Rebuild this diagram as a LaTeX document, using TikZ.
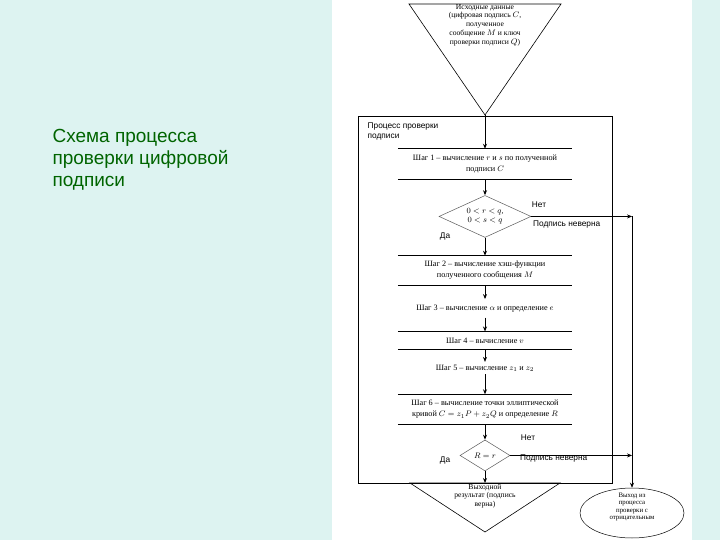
\documentclass[tikz,border=0pt]{standalone}
\usepackage{fontspec}
\setmainfont{Liberation Serif}
\setsansfont{Liberation Sans}
\usepackage{tikz}
\usetikzlibrary{positioning,shapes.geometric,arrows.meta}
\definecolor{pagebg}{RGB}{221,243,241}
\definecolor{titlegreen}{RGB}{0,100,0}
\definecolor{linegray}{RGB}{90,90,90}
\newcommand{\stepfont}{\fontsize{8.2}{11}\selectfont}
\newcommand{\labfont}{\sffamily\fontsize{8.3}{10}\selectfont}
\newcommand{\smallfont}{\fontsize{7.6}{8.7}\selectfont}
\newcommand{\exitfont}{\fontsize{6.8}{7.5}\selectfont}

\begin{document}
\begin{tikzpicture}[x=1pt, y=-1pt, node distance=14pt]
  \tikzstyle{stepbox}=[rectangle, minimum width=174pt, inner sep=1pt, align=center, font=\stepfont]
  \tikzstyle{check}=[diamond, draw=linegray, line width=0.5pt, inner sep=0pt, align=center, font=\smallfont]
  \tikzstyle{steprule}=[line width=0.9pt]
  \tikzstyle{arr}=[-{Stealth[length=5pt,width=4pt]}, line width=0.9pt]
  \tikzstyle{sidearr}=[-{Stealth[length=5pt,width=4pt]}, line width=0.6pt]
  \tikzstyle{lab}=[font=\labfont, inner sep=0pt]
  % background
  \fill[pagebg] (0,0) rectangle (720,540);
  \fill[white] (332,0) rectangle (692,540);
  \useasboundingbox (0,0) rectangle (720,540);
  % title
  \node[anchor=west, align=left, text=titlegreen, font=\sffamily\fontsize{19}{22}\selectfont] (title) at (49,160)
    {Схема процесса\\проверки цифровой\\подписи};
  % frame of the process
  \node[draw, line width=1pt, minimum width=254pt, minimum height=366pt] (proc) at (485,300) {};
  \node[lab, anchor=north west, align=left] (proclab) at ([xshift=10pt,yshift=-6pt]proc.north west)
    {Процесс проверки\\подписи};
  % input
  \coordinate (inapex) at (485,115);
  \draw[line width=0.6pt] (409,4) -- (561,4) -- (inapex) -- cycle;
  \node[font=\smallfont, align=center] (indata) at (485,25)
    {Исходные данные\\(цифровая подпись $C$,\\полученное\\сообщение $M$ и ключ\\проверки подписи $Q$)};
  % steps
  \node[stepbox, minimum height=30pt] (s1) at (485,164) {Шаг 1 – вычисление $r$ и $s$ по полученной\\подписи $C$};
  \node[check, minimum width=92pt, minimum height=42pt, aspect=2.2, below=16pt of s1] (d1) {$0<r<q$,\\$0<s<q$};
  \node[stepbox, minimum height=29pt, below=18pt of d1] (s2) {Шаг 2 – вычисление хэш-функции\\полученного сообщения $M$};
  \node[stepbox, minimum height=18pt, below=of s2] (s3) {Шаг 3 – вычисление $\alpha$ и определение $e$};
  \node[stepbox, minimum height=18pt, below=of s3] (s4) {Шаг 4 – вычисление $v$};
  \node[stepbox, minimum height=12pt, below=12pt of s4] (s5) {Шаг 5 – вычисление $z_1$ и $z_2$};
  \node[stepbox, minimum height=30pt, below=20pt of s5] (s6) {Шаг 6 – вычисление точки эллиптической\\кривой $C = z_1P + z_2Q$ и определение $R$};
  \node[check, minimum width=50pt, minimum height=31pt, aspect=1.6, below=15pt of s6] (d2) {$R = r$};
  \foreach \n in {s1,s2,s4,s6}
    \draw[steprule] (\n.north west) -- (\n.north east) (\n.south west) -- (\n.south east);
  % output
  \coordinate (outtop) at (485,483);
  \draw[line width=0.6pt] (410,483) -- (560,483) -- (485,532) -- cycle;
  \node[font=\smallfont, align=center] (result) at (485,496) {Выходной\\результат (подпись\\верна)};
  % exit
  \node[ellipse, draw, line width=0.5pt, minimum width=104pt, minimum height=50pt] (exit) at (632,513) {};
  \node[font=\exitfont, align=center] (exitlab) at (632,507) {Выход из\\процесса\\проверки с\\отрицательным};
  % labels
  \node[lab] (no1) at (539,205) {Нет};
  \node[lab, anchor=west] (bad1) at (533,225) {Подпись неверна};
  \node[lab] (yes1) at (445,236) {Да};
  \node[lab] (no2) at (528,438) {Нет};
  \node[lab, anchor=north west] (bad2) at (520,455) {Подпись неверна};
  \node[lab] (yes2) at (445,460) {Да};
  % connectors
  \draw[arr] (inapex) -- (s1);
  \draw[arr] (s1) -- (d1);
  \draw[arr] (d1) -- (s2);
  \draw[arr] (s2) -- (s3);
  \draw[arr] (s3) -- (s4);
  \draw[arr] (s4) -- (s5);
  \draw[arr] (s5) -- (s6);
  \draw[arr] (s6) -- (d2);
  \draw[arr] (d2) -- (outtop);
  \coordinate (c1) at (d1.east -| exit.north);
  \coordinate (c2) at (d2.east -| exit.north);
  \draw[sidearr] (d1.east) -- (c1);
  \draw[sidearr] (d2.east) -- (c2);
  \draw[sidearr] (c1) -- (exit.north);
\end{tikzpicture}
\end{document}
